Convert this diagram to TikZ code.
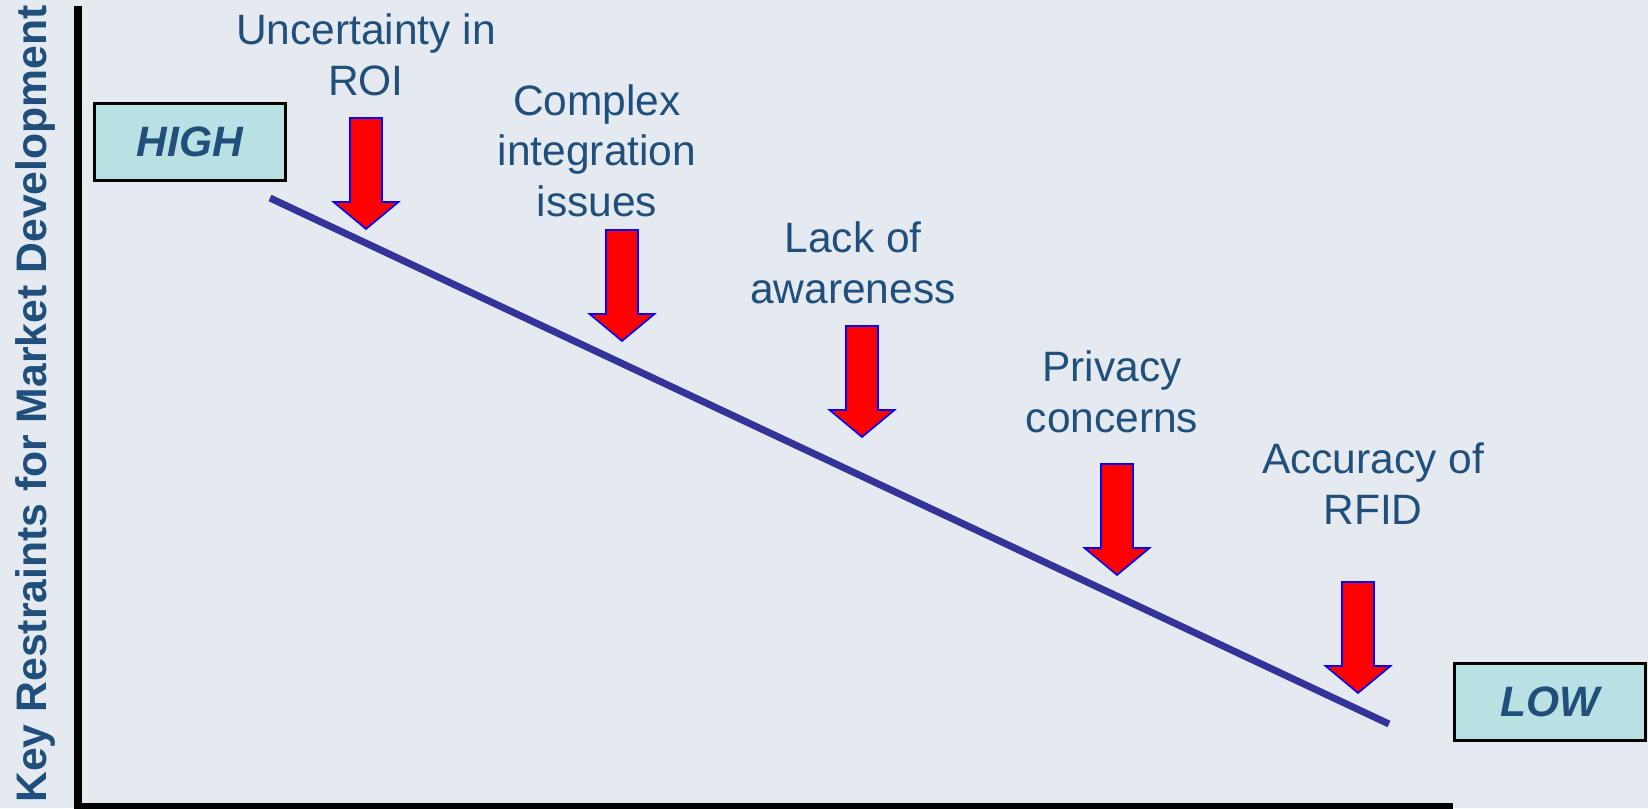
\documentclass[tikz,border=0pt]{standalone}
\usepackage{fontspec}
\setmainfont{Liberation Sans}
\definecolor{bgc}{RGB}{228,234,240}
\definecolor{txt}{RGB}{33,79,124}
\definecolor{boxfill}{RGB}{185,224,227}
\definecolor{trend}{RGB}{51,51,153}
\begin{document}
\begin{tikzpicture}[x=1pt,y=-1pt,
  lbl/.style={text=txt, font=\fontsize{42.5}{50.5}\selectfont, align=center, inner sep=0pt},
  levelbox/.style={draw=black, line width=2.7pt, fill=boxfill, minimum width=191pt, minimum height=77pt, inner sep=0pt, text=txt, font=\fontsize{42.5}{50}\selectfont\bfseries\itshape},
  axisline/.style={line width=8pt, black},
  trendline/.style={line width=7pt, trend},
  redarr/.style={fill=red, draw=blue, line width=1.6pt, line join=miter}]
\fill[bgc] (0,0) rectangle (1648,808);
\useasboundingbox (0,0) rectangle (1648,808);
% axes
\coordinate (ytop) at (78,6);
\coordinate (origin) at (78,806);
\coordinate (xend) at (1453,806);
\draw[axisline] (ytop) -- (78,810);
\draw[axisline,line width=7pt] (74,806) -- (xend);
% axis title
\node[rotate=90, anchor=base, text=txt, inner sep=0pt, font=\fontsize{42.7}{50}\selectfont\bfseries] (ytitle) at (46,404) {Key Restraints for Market Development};
% level boxes
\node[levelbox] (high) at (190,142) {HIGH};
\node[levelbox] (low) at (1550,702) {LOW};
% trend line
\coordinate (tstart) at (270,198);
\coordinate (tend) at (1389,724);
\draw[trendline] (tstart) -- (tend);
% arrows
\newcommand\redarrow[3]{%
  \draw[redarr] (#1-16,#2) -- (#1+16,#2) -- (#1+16,#2+84) -- (#1+32.5,#2+84) -- coordinate[pos=1] (#3) (#1,#2+111) -- (#1-32.5,#2+84) -- (#1-16,#2+84) -- cycle;}
\redarrow{366}{118}{a1}
\redarrow{622}{230}{a2}
\redarrow{862}{326}{a3}
\redarrow{1117}{464}{a4}
\redarrow{1358}{582}{a5}
% labels (anchored at the baseline of the last line)
\node[lbl, anchor=base] (l1) at (366,95) {Uncertainty in\\ROI};
\node[lbl, anchor=base] (l2) at (597,216) {Complex\\integration\\issues};
\node[lbl, anchor=base] (l3) at (853,303) {Lack of\\awareness};
\node[lbl, anchor=base] (l4) at (1112,432) {Privacy\\concerns};
\node[lbl, anchor=base] (l5) at (1373,524) {Accuracy of\\RFID};
\end{tikzpicture}
\end{document}
